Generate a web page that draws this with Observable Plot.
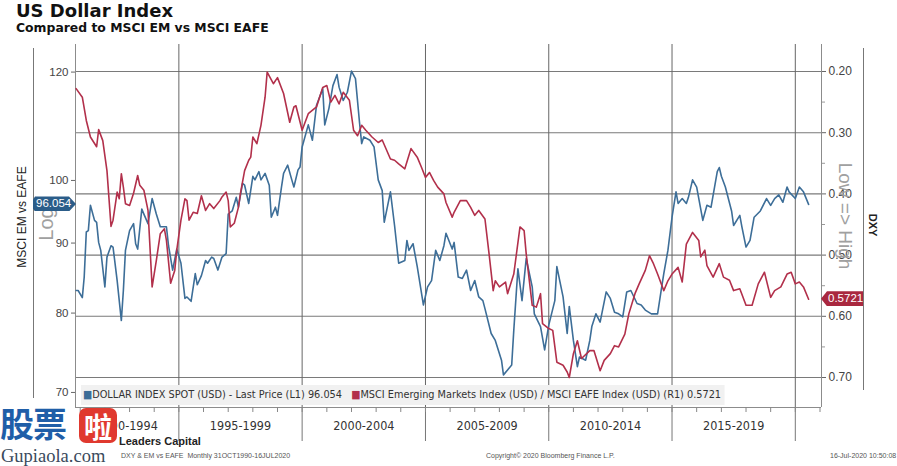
<!DOCTYPE html>
<html><head><meta charset="utf-8">
<script src="https://cdn.jsdelivr.net/npm/d3@7"></script>
<script src="https://cdn.jsdelivr.net/npm/@observablehq/plot@0.6"></script>
<style>
body{margin:0;background:#fff;}
#wrap{position:relative;width:897px;height:466px;overflow:hidden;background:#fff;font-family:"Liberation Sans",Arial,sans-serif;}
#wrap svg{position:absolute;left:0;top:0;}
.abs{position:absolute;white-space:nowrap;line-height:1;}
.rot{transform:translate(-50%,-50%) rotate(-90deg);}
.rotr{transform:translate(-50%,-50%) rotate(90deg);}
</style></head><body><div id="wrap"></div>
<script>
// ---- data ----
const dxyDates = ["1990-11","1990-12","1991-02","1991-03","1991-04","1991-05","1991-06","1991-08","1991-09","1991-10",
"1991-11","1992-01","1992-02","1992-04","1992-05","1992-07","1992-09","1992-10","1992-11","1993-01",
"1993-03","1993-04","1993-05","1993-07","1993-08","1993-10","1993-12","1994-02","1994-04","1994-07",
"1994-08","1994-10","1994-12","1995-02","1995-04","1995-05","1995-07","1995-09","1995-10","1995-12",
"1996-02","1996-03","1996-05","1996-06","1996-08","1996-10","1996-12","1997-01","1997-03","1997-05",
"1997-06","1997-08","1997-09","1997-11","1998-01","1998-02","1998-04","1998-05","1998-07","1998-09",
"1998-10","1998-12","1999-01","1999-03","1999-04","1999-06","1999-08","1999-09","1999-11","1999-12",
"2000-01","2000-04","2000-06","2000-08","2000-11","2000-12","2001-02","2001-04","2001-06","2001-07",
"2001-09","2001-11","2002-01","2002-03","2002-05","2002-06","2002-07","2002-10","2002-12","2003-02",
"2003-04","2003-05","2003-08","2003-10","2003-12","2004-03","2004-04","2004-05","2004-07","2004-09",
"2004-12","2005-02","2005-04","2005-06","2005-08","2005-10","2005-11","2006-02","2006-03","2006-05",
"2006-07","2006-09","2006-11","2007-01","2007-03","2007-05","2007-06","2007-09","2007-11","2008-02",
"2008-03","2008-05","2008-07","2008-08","2008-10","2008-12","2009-02","2009-05","2009-06","2009-09",
"2009-11","2010-01","2010-04","2010-05","2010-08","2010-10","2010-11","2011-01","2011-03","2011-04",
"2011-07","2011-09","2011-10","2011-12","2012-02","2012-05","2012-07","2012-09","2012-11","2013-01",
"2013-03","2013-05","2013-08","2013-10","2013-12","2014-03","2014-06","2014-08","2014-09","2014-11",
"2015-01","2015-03","2015-04","2015-06","2015-08","2015-09","2015-11","2016-01","2016-04","2016-06",
"2016-08","2016-11","2016-12","2017-01","2017-03","2017-06","2017-07","2017-10","2017-11","2018-01",
"2018-03","2018-05","2018-08","2018-11","2019-01","2019-03","2019-05","2019-07","2019-09","2019-10",
"2020-01","2020-03","2020-05","2020-07-16"];
const dxyValues = [83.1,83.1,82.1,85.0,91.7,91.9,95.9,93.5,93.2,90.1,
88.9,83.6,87.9,89.6,89.4,84.5,79.0,83.1,88.9,91.9,
93.0,89.9,89.1,95.3,94.5,93.0,97.0,94.5,92.5,92.5,
89.6,86.0,89.1,87.0,82.0,82.2,81.6,85.5,83.9,85.2,
87.4,87.0,87.9,87.7,86.0,87.9,88.4,94.5,95.0,97.2,
95.6,99.5,99.2,96.2,100.7,100.1,101.5,100.1,101.2,99.2,
94.0,95.6,94.3,98.9,101.2,102.6,100.1,98.9,101.8,102.3,
105.8,109.8,107.0,113.5,116.7,109.8,112.9,117.3,119.5,117.0,
114.4,116.0,120.2,118.7,110.1,106.4,107.6,107.0,105.8,100.1,
98.3,93.2,98.1,92.7,87.0,87.4,90.4,88.9,89.9,86.5,
81.1,83.6,84.5,88.9,87.4,89.6,91.5,89.1,90.1,85.0,
84.8,86.0,83.1,84.5,82.2,81.7,80.6,77.3,76.4,73.9,
72.1,72.7,73.3,77.7,86.2,81.7,87.7,83.6,79.9,78.2,
75.2,78.4,81.7,86.5,82.2,77.3,80.9,76.4,73.1,74.3,
73.9,76.4,78.2,79.9,78.8,82.9,82.0,80.1,79.9,79.5,
82.9,83.1,81.3,81.1,80.4,79.9,79.9,83.6,85.5,88.9,
94.0,98.1,96.2,97.0,96.2,97.2,100.1,98.9,93.5,95.9,
95.6,101.5,102.2,100.7,98.9,95.0,92.7,94.3,92.5,89.4,
90.4,94.0,95.0,97.0,95.9,97.0,97.6,96.4,98.9,98.1,
97.0,98.9,98.1,96.054];

const ratioDates = ["1990-11","1991-02","1991-04","1991-06","1991-09","1991-10","1991-12","1992-02","1992-04","1992-05",
"1992-07","1992-08","1992-09","1992-10","1992-11","1993-01","1993-03","1993-05","1993-06","1993-08",
"1993-10","1993-12","1994-02","1994-04","1994-06","1994-07","1994-09","1994-11","1994-12","1995-02",
"1995-04","1995-05","1995-06","1995-08","1995-10","1995-12","1996-02","1996-04","1996-06","1996-09",
"1996-10","1996-12","1997-01","1997-02","1997-04","1997-06","1997-07","1997-09","1997-11","1997-12",
"1998-01","1998-03","1998-05","1998-07","1998-08","1998-11","1999-01","1999-04","1999-07","1999-09",
"1999-10","2000-01","2000-04","2000-08","2000-11","2001-01","2001-03","2001-05","2001-07","2001-09",
"2001-12","2002-02","2002-04","2002-06","2002-08","2002-11","2003-02","2003-04","2003-08","2003-10",
"2003-12","2004-03","2004-06","2004-09","2004-11","2005-01","2005-03","2005-05","2005-07","2005-10",
"2005-11","2006-02","2006-03","2006-06","2006-09","2006-11","2007-01","2007-03","2007-06","2007-08",
"2007-10","2007-11","2008-01","2008-04","2008-05","2008-08","2008-11","2009-01","2009-02","2009-05",
"2009-07","2009-09","2009-10","2010-01","2010-03","2010-05","2010-08","2010-10","2010-11","2011-01",
"2011-03","2011-05","2011-09","2011-11","2012-02","2012-04","2012-07","2012-09","2012-11","2013-02",
"2013-04","2013-07","2013-09","2013-12","2014-02","2014-04","2014-06","2014-09","2014-11","2015-01",
"2015-04","2015-06","2015-08","2015-11","2016-02","2016-03","2016-05","2016-06","2016-09","2016-12",
"2017-02","2017-05","2017-07","2017-10","2018-01","2018-04","2018-07","2018-10","2019-01","2019-03",
"2019-06","2019-09","2019-11","2020-01","2020-03","2020-05","2020-07-16"];
const ratioValues = [0.228,0.242,0.280,0.307,0.323,0.295,0.313,0.362,0.453,0.443,
0.397,0.408,0.367,0.389,0.416,0.419,0.399,0.370,0.386,0.394,
0.427,0.552,0.509,0.465,0.457,0.476,0.546,0.525,0.492,0.443,
0.408,0.411,0.443,0.430,0.432,0.403,0.427,0.416,0.424,0.411,
0.405,0.397,0.411,0.454,0.448,0.422,0.399,0.362,0.345,0.340,
0.307,0.318,0.288,0.242,0.201,0.220,0.210,0.236,0.283,0.258,
0.256,0.296,0.269,0.258,0.226,0.223,0.250,0.239,0.253,0.234,
0.247,0.296,0.305,0.288,0.296,0.307,0.316,0.312,0.343,0.345,
0.351,0.359,0.326,0.340,0.356,0.373,0.365,0.378,0.389,0.400,
0.414,0.438,0.430,0.411,0.411,0.422,0.435,0.427,0.441,0.498,
0.558,0.542,0.552,0.544,0.563,0.531,0.454,0.460,0.498,0.582,
0.585,0.563,0.612,0.620,0.623,0.675,0.680,0.691,0.700,0.661,
0.640,0.669,0.656,0.656,0.689,0.672,0.661,0.648,0.650,0.629,
0.596,0.563,0.547,0.525,0.501,0.514,0.531,0.558,0.542,0.531,
0.520,0.544,0.482,0.463,0.476,0.503,0.492,0.517,0.536,0.514,
0.536,0.541,0.558,0.555,0.582,0.582,0.547,0.528,0.569,0.558,
0.552,0.531,0.528,0.547,0.544,0.552,0.5721];

const leftTicks = [70, 80, 90, 100, 120];
const rightTicks = [0.20, 0.30, 0.40, 0.50, 0.60, 0.70];
const rightMinorTicks = [0.25, 0.35, 0.45, 0.55, 0.65];
const periodLabels = ["1990-1994","1995-1999","2000-2004","2005-2009","2010-2014","2015-2019"];
const periodStartYears = [1990, 1995, 2000, 2005, 2010, 2015];
const xDomainDates = ["1990-10-23", "2021-01-23"];
const leftDomain = [68.25, 125.7];
const rightDomain = [0.1559, 0.749];

// ---- build ----
const xDomain = xDomainDates.map(s => new Date(s));
const dxy = dxyDates.map((d, i) => ({date: new Date(d), value: dxyValues[i]}));
const ratio = ratioDates.map((d, i) => ({date: new Date(d), value: ratioValues[i]}));
const boundaries = periodStartYears.slice(1).concat([periodStartYears.at(-1) + 5]).map(y => new Date(Date.UTC(y, 0, 1)));
const yearTicks = d3.utcYears(xDomain[0], xDomain[1]);
const periods = periodLabels.map((label, i) => {
  const s = Math.max(+new Date(Date.UTC(periodStartYears[i], 0, 1)), +xDomain[0]);
  const e = +new Date(Date.UTC(periodStartYears[i] + 5, 0, 1));
  return {label, mid: new Date((s + e) / 2)};
});

const BLUE = "#3d6e98", RED = "#b2304b", GRID = "#7a7a7a";
const common = {
  width: 897, height: 466, marginLeft: 75, marginRight: 76, marginTop: 44, marginBottom: 59,
  style: {background: "transparent", overflow: "visible", fontFamily: "'Liberation Sans', Arial, sans-serif", fontSize: "11.5px", color: "#444"}
};

const back = Plot.plot({
  ...common,
  x: {type: "utc", domain: xDomain, axis: null},
  y: {domain: rightDomain, reverse: true, axis: null},
  marks: [
    Plot.ruleY(rightTicks, {stroke: GRID, strokeWidth: 1.1}),
    Plot.ruleX(boundaries, {stroke: "#666", strokeWidth: 1}),
    Plot.ruleX(xDomain, {stroke: "#8c8c8c", strokeWidth: 1}),
    Plot.ruleY([rightDomain[1]], {stroke: "#8c8c8c", strokeWidth: 1}),
    Plot.axisY(rightTicks, {anchor: "right", tickSize: 4, tickPadding: 3, tickFormat: ".2f", label: null, fontSize: 12, stroke: "#666"}),
    Plot.axisY(rightMinorTicks, {anchor: "right", tickSize: 3, tickFormat: () => "", label: null, stroke: "#999"}),
    Plot.axisX(boundaries, {anchor: "bottom", tickSize: 34, tickFormat: () => "", label: null, stroke: "#777"}),
    Plot.axisX(yearTicks, {anchor: "bottom", tickSize: 5, tickFormat: () => "", label: null, stroke: "#888"}),
    Plot.text(periods, {x: "mid", text: "label", frameAnchor: "bottom", dy: 22, fontSize: 12.5, fill: "#333",
      fontFamily: "'DejaVu Sans Condensed','Liberation Sans Narrow','DejaVu Sans',sans-serif"})
  ]
});

const mid = Plot.plot({
  ...common,
  x: {type: "utc", domain: xDomain, axis: null},
  y: {type: "log", domain: leftDomain, axis: null},
  marks: [
    Plot.tickY(leftTicks, {y: d => d, frameAnchor: "left", stroke: "#666"}),
    Plot.text(leftTicks, {y: d => d, text: d => String(d), frameAnchor: "left", textAnchor: "end", dx: -7, fill: "#444", fontSize: 11.5}),
    Plot.line(dxy, {x: "date", y: "value", stroke: BLUE, strokeWidth: 1.6, strokeLinejoin: "round"})
  ]
});
// shorten left tick marks to small outward ticks
mid.querySelectorAll("g[aria-label='tick'] line").forEach(l => { l.setAttribute("x1", 71); l.setAttribute("x2", 75); });

const front = Plot.plot({
  ...common,
  x: {type: "utc", domain: xDomain, axis: null},
  y: {domain: rightDomain, reverse: true, axis: null},
  marks: [
    Plot.line(ratio, {x: "date", y: "value", stroke: RED, strokeWidth: 1.6, strokeLinejoin: "round"})
  ]
});

const wrap = document.getElementById("wrap");
wrap.append(back, mid, front);

function addDiv(html, css, cls) {
  const d = document.createElement("div");
  d.className = "abs" + (cls ? " " + cls : "");
  d.innerHTML = html;
  Object.assign(d.style, css);
  wrap.appendChild(d);
  return d;
}

// titles
addDiv("US Dollar Index", {left: "16px", top: "2px", fontFamily: "'DejaVu Sans',sans-serif", fontWeight: "bold", fontSize: "18px", color: "#111"});
addDiv("Compared to MSCI EM vs MSCI EAFE", {left: "16px", top: "22px", fontFamily: "'DejaVu Sans',sans-serif", fontWeight: "bold", fontSize: "12.4px", color: "#111"});

// side rules
addDiv("", {left: "33px", top: "48px", width: "1px", height: "350px", background: "#777"});
addDiv("", {left: "863px", top: "48px", width: "1px", height: "342px", background: "#777"});

// axis titles
addDiv("MSCI EM vs EAFE", {left: "22px", top: "217px", fontSize: "12px", color: "#222"}, "rot");
addDiv("Log", {left: "46px", top: "224px", fontSize: "20px", color: "#a0a0a0"}, "rot");
addDiv("Low =&gt; High", {left: "845px", top: "216px", fontSize: "19px", color: "#a0a0a0"}, "rotr");
addDiv("DXY", {left: "872px", top: "225px", fontSize: "11px", color: "#222", fontWeight: "bold"}, "rotr");

// value tags positioned via the plots' scales
const lastDxy = dxyValues.at(-1), lastRatio = ratioValues.at(-1);
const yL = mid.scale("y").apply(lastDxy);
const yR = front.scale("y").apply(lastRatio);
addDiv(String(lastDxy), {left: "33px", top: (yL - 7.5) + "px", width: "43px", height: "15px", lineHeight: "15px",
  background: "#2b5d89", color: "#fff", fontSize: "11.5px", paddingLeft: "3px", boxSizing: "border-box",
  clipPath: "polygon(2px 0, 36px 0, 43px 50%, 36px 100%, 2px 100%, 0 80%, 0 20%)"});
addDiv(String(lastRatio), {left: "821px", top: (yR - 7.5) + "px", width: "42px", height: "15px", lineHeight: "15px",
  background: "#a9283f", color: "#fff", fontSize: "11.5px", paddingLeft: "7px", boxSizing: "border-box",
  clipPath: "polygon(0 50%, 6px 0, 100% 0, 100% 100%, 6px 100%)"});

// legend
const leg = addDiv(
  `<span style="color:${BLUE}">&#9632;</span>DOLLAR INDEX SPOT (USD) - Last Price (L1) ${lastDxy}&nbsp;&nbsp;&nbsp;<span style="color:${RED}">&#9632;</span>MSCI Emerging Markets Index (USD) / MSCI EAFE Index (USD) (R1) ${lastRatio}`,
  {left: "81px", top: "385px", height: "20px", lineHeight: "20px", background: "#f1f1f1", color: "#333",
   fontSize: "11px", paddingLeft: "2px", paddingRight: "4px", fontFamily: "'Liberation Sans Narrow','DejaVu Sans Condensed','Liberation Sans',sans-serif",
   transformOrigin: "0 0"});
const lw = leg.getBoundingClientRect().width;
leg.style.transform = `scaleX(${644 / lw})`;

// footer
addDiv("Leaders Capital", {left: "119px", top: "436px", fontSize: "11px", fontWeight: "bold", color: "#222"});
addDiv("DXY &amp; EM vs EAFE&nbsp;&nbsp;Monthly 31OCT1990-16JUL2020", {left: "121px", top: "452px", fontSize: "7px", color: "#555"});
addDiv("Copyright&copy; 2020 Bloomberg Finance L.P.", {left: "486px", top: "452px", fontSize: "7px", color: "#555"});
addDiv("16-Jul-2020 10:50:08", {left: "830px", top: "452px", fontSize: "7px", color: "#555"});

// watermark
addDiv("股票", {left: "0px", top: "406px", fontSize: "34px", fontWeight: "bold", color: "#1f5ea8", fontFamily: "'Noto Sans CJK SC',sans-serif", letterSpacing: "-1px"});
addDiv("", {left: "79px", top: "408px", width: "38px", height: "35px", borderRadius: "7px", background: "#e0392f"});
addDiv("啦", {left: "98px", top: "425.5px", fontSize: "28px", fontWeight: "bold", color: "#fff", fontFamily: "'Noto Sans CJK SC',sans-serif", transform: "translate(-50%,-50%)"});
addDiv("Gupiaola.com", {left: "1px", top: "447px", fontSize: "18.5px", color: "#3a4a5c", fontFamily: "'Liberation Serif','DejaVu Serif',serif"});
</script>
</body></html>
